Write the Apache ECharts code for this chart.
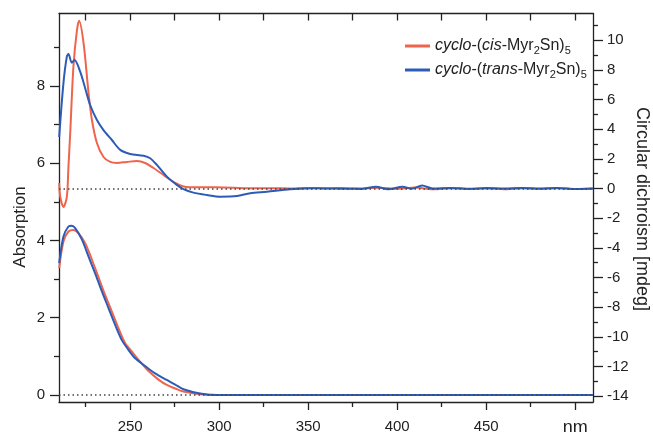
<!DOCTYPE html>
<html>
<head>
<meta charset="utf-8">
<script src="https://cdn.jsdelivr.net/npm/echarts@6/dist/echarts.min.js"></script>
<style>
html, body { margin: 0; padding: 0; background: #fff; }
#chart { width: 653px; height: 432px; }
</style>
</head>
<body>
<div id="chart"></div>
<script>
// CD spectra (mdeg, right axis)
var cdCisNm = [210.1, 210.7, 212.5, 214.4, 215.3, 216.3, 218.1, 220.1, 221.3, 223.8, 226.6, 228.5, 231.3, 235.0, 238.8, 242.5, 248.1, 253.8, 258.4, 263.1, 268.7, 274.3, 279.0, 283.7, 298.7, 317.4, 330, 340, 350, 360, 370, 380, 390, 400, 410, 420, 430, 440, 450, 460, 470, 480, 490, 500, 510];
var cdCisVal = [0.37, -0.57, -1.25, -0.57, 1.45, 3.74, 8.21, 10.69, 11.31, 9.81, 6.44, 4.62, 3.07, 2.12, 1.79, 1.72, 1.79, 1.85, 1.72, 1.38, 0.91, 0.44, 0.17, 0.08, 0.08, 0.01, 0.02, 0.0, 0.03, 0.02, -0.03, 0.0, 0.05, -0.02, 0.06, -0.05, 0.02, -0.04, 0.0, -0.05, 0.02, -0.03, 0.02, -0.04, 0.0];
var cdTransNm = [210.1, 212.5, 214.4, 215.3, 217.2, 218.7, 221.9, 224.7, 227.5, 231.3, 235.0, 239.7, 244.4, 250, 257.5, 261.2, 265.0, 270.6, 276.2, 279.9, 285.5, 293.1, 300.6, 310.0, 317.4, 326.8, 339.9, 354.9, 362, 370, 380, 388, 395, 403, 408, 414, 420, 430, 440, 450, 460, 470, 480, 490, 500, 510];
var cdTransVal = [3.47, 7.11, 8.89, 9.07, 8.48, 8.66, 7.88, 6.76, 5.63, 4.62, 3.94, 3.27, 2.60, 2.33, 2.21, 2.04, 1.59, 0.80, 0.24, -0.05, -0.28, -0.44, -0.55, -0.51, -0.32, -0.22, -0.05, 0.01, 0.0, 0.02, -0.03, 0.12, -0.05, 0.12, -0.02, 0.2, 0.0, 0.04, -0.02, 0.03, 0.0, 0.04, 0.0, 0.04, -0.03, 0.0];

// UV absorption (left axis)
var absCisNm = [210.1, 212.5, 215.3, 218.1, 220.9, 224.7, 228.5, 232.1, 235.9, 239.7, 243.4, 247.2, 251.0, 254.7, 260.3, 265.9, 270.6, 275.3, 279.9, 289.3, 298.7, 320, 360, 400, 450, 510];
var absCisVal = [3.28, 3.97, 4.23, 4.27, 4.19, 3.93, 3.50, 3.06, 2.59, 2.16, 1.73, 1.34, 1.12, 0.91, 0.62, 0.40, 0.26, 0.17, 0.09, 0.02, 0.0, 0.0, 0.0, 0.0, 0.0, 0.0];
var absTransNm = [210.1, 212.5, 215.3, 217.2, 219.1, 222.9, 226.6, 230.3, 234.1, 237.8, 241.6, 245.3, 249.0, 252.8, 258.4, 264.0, 270.6, 275.3, 279.9, 289.3, 298.7, 320, 360, 400, 450, 510];
var absTransVal = [3.41, 4.10, 4.36, 4.38, 4.32, 4.02, 3.58, 3.15, 2.68, 2.25, 1.81, 1.42, 1.17, 0.95, 0.75, 0.56, 0.39, 0.27, 0.15, 0.04, 0.0, 0.0, 0.0, 0.0, 0.0, 0.0];

// ticks
var xMajor = [250, 300, 350, 400, 450, 500];
var xMinor = [225, 275, 325, 375, 425, 475];
var xTop = [225, 250, 275, 300, 325, 350, 375, 400, 425, 450, 475, 500];
var absMajor = [0, 2, 4, 6, 8];
var absMinor = [1, 3, 5, 7, 9];
var cdMajor = [-14, -12, -10, -8, -6, -4, -2, 0, 2, 4, 6, 8, 10];
var cdMinor = [-13, -11, -9, -7, -5, -3, -1, 1, 3, 5, 7, 9, 11];

var cisName = 'cis';
var transName = 'trans';
var red = '#f0644c';
var blue = '#2c5cb8';
var font = '"Liberation Sans", Arial, Helvetica, sans-serif';
var ink = '#222';

function zip(xs, ys) {
    var out = [];
    for (var i = 0; i < xs.length; i++) {
        out.push([xs[i], ys[i]]);
    }
    return out;
}

var xRange = { min: 210, max: 510 };
var absRange = { min: -0.18, max: 9.87 };
var cdRange = { min: -14.4, max: 11.8 };

// extra axes just for minor ticks / mirrored top ticks
function minorAxis(base, pos, values, len, inside, showLine) {
    return Object.assign({
        type: 'value',
        position: pos,
        axisLine: { show: !!showLine, onZero: false, lineStyle: { color: ink, width: 1.3 } },
        axisTick: { show: true, inside: !!inside, length: len, customValues: values, lineStyle: { color: ink, width: 1.3 } },
        axisLabel: { show: false },
        splitLine: { show: false }
    }, base);
}

var dotted = {
    silent: true,
    symbol: 'none',
    label: { show: false },
    lineStyle: { color: '#444', width: 1.5, type: [1.5, 3] },
    data: [{ yAxis: 0 }]
};

var chart = echarts.init(document.getElementById('chart'));
chart.setOption({
    animation: false,
    textStyle: { fontFamily: font },
    grid: { left: 59, right: 60, top: 13.5, bottom: 30, containLabel: false, outerBoundsMode: 'none' },
    graphic: [
        {
            type: 'text',
            x: 20,
            y: 227,
            rotation: Math.PI / 2,
            style: { text: 'Absorption', font: '17px ' + font, fill: ink, textAlign: 'center', textVerticalAlign: 'middle' }
        },
        {
            type: 'text',
            x: 642,
            y: 209,
            rotation: -Math.PI / 2,
            style: { text: 'Circular dichroism [mdeg]', font: '18px ' + font, fill: ink, textAlign: 'center', textVerticalAlign: 'middle' }
        }
    ],
    legend: {
        orient: 'vertical',
        left: 400,
        top: 33,
        itemWidth: 25,
        itemHeight: 3,
        itemGap: 6,
        itemTextGap: 4,
        icon: 'rect',
        data: [cisName, transName],
        formatter: function (name) {
            return '{i|cyclo}-({i|' + name + '}-Myr{s|2}Sn){s|5}';
        },
        textStyle: {
            fontFamily: font,
            fontSize: 16,
            color: ink,
            rich: {
                i: { fontStyle: 'italic', fontSize: 16, fontFamily: font, color: ink },
                s: { fontSize: 11, fontFamily: font, color: ink, verticalAlign: 'bottom', padding: [9, 0, 0, 0] }
            }
        }
    },
    xAxis: [
        {
            type: 'value',
            position: 'bottom',
            min: xRange.min,
            max: xRange.max,
            axisLine: { show: true, onZero: false, lineStyle: { color: ink, width: 1.3 } },
            axisTick: { show: true, length: 8, customValues: xMajor, lineStyle: { color: ink, width: 1.3 } },
            axisLabel: {
                show: true,
                customValues: xMajor,
                margin: 17,
                fontSize: 15,
                color: ink,
                fontFamily: font,
                formatter: function (v) { return v === 500 ? '{nm|nm}' : String(v); },
                rich: { nm: { fontSize: 18, color: ink, fontFamily: font } }
            },
            splitLine: { show: false }
        },
        minorAxis(xRange, 'bottom', xMinor, 5, false, false),
        minorAxis(xRange, 'top', xTop, 7, true, true)
    ],
    yAxis: [
        {
            type: 'value',
            position: 'left',
            min: absRange.min,
            max: absRange.max,
            axisLine: { show: true, onZero: false, lineStyle: { color: ink, width: 1.3 } },
            axisTick: { show: true, length: 9, customValues: absMajor, lineStyle: { color: ink, width: 1.3 } },
            axisLabel: { show: true, customValues: absMajor, margin: 14, fontSize: 15, color: ink, fontFamily: font },
            splitLine: { show: false }
        },
        {
            type: 'value',
            position: 'right',
            min: cdRange.min,
            max: cdRange.max,
            axisLine: { show: true, onZero: false, lineStyle: { color: ink, width: 1.3 } },
            axisTick: { show: true, length: 10, customValues: cdMajor, lineStyle: { color: ink, width: 1.3 } },
            axisLabel: { show: true, customValues: cdMajor, margin: 14, fontSize: 15, color: ink, fontFamily: font },
            splitLine: { show: false }
        },
        minorAxis(absRange, 'left', absMinor, 5, false, false),
        minorAxis(cdRange, 'right', cdMinor, 5, false, false)
    ],
    series: [
        {
            name: cisName,
            type: 'line',
            xAxisIndex: 0,
            yAxisIndex: 0,
            symbol: 'none',
            smooth: 0.3,
            data: zip(absCisNm, absCisVal),
            lineStyle: { color: red, width: 2 },
            itemStyle: { color: red },
            markLine: dotted,
            z: 3
        },
        {
            name: transName,
            type: 'line',
            xAxisIndex: 0,
            yAxisIndex: 0,
            symbol: 'none',
            smooth: 0.3,
            data: zip(absTransNm, absTransVal),
            lineStyle: { color: blue, width: 2 },
            itemStyle: { color: blue },
            z: 4
        },
        {
            name: cisName,
            type: 'line',
            xAxisIndex: 0,
            yAxisIndex: 1,
            symbol: 'none',
            smooth: 0.3,
            data: zip(cdCisNm, cdCisVal),
            lineStyle: { color: red, width: 2 },
            itemStyle: { color: red },
            markLine: dotted,
            z: 3
        },
        {
            name: transName,
            type: 'line',
            xAxisIndex: 0,
            yAxisIndex: 1,
            symbol: 'none',
            smooth: 0.3,
            data: zip(cdTransNm, cdTransVal),
            lineStyle: { color: blue, width: 2 },
            itemStyle: { color: blue },
            z: 4
        }
    ]
});
</script>
</body>
</html>
